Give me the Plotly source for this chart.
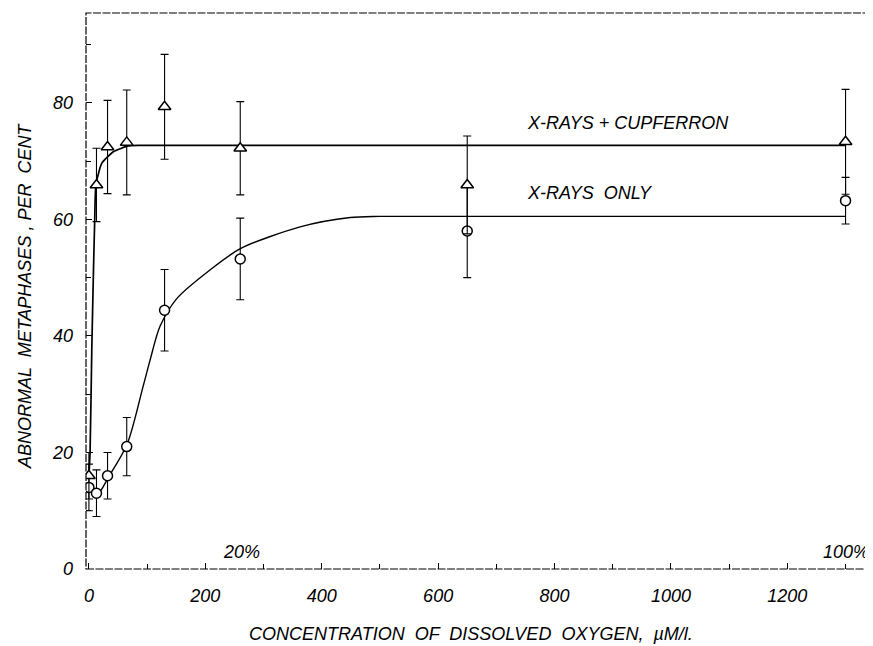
import plotly.graph_objects as go

# ---- data ----
conc = [0, 13, 32, 65, 130, 260, 650, 1300]

xray_only = [14, 13, 16, 21, 44.4, 53.2, 58, 63.2]
xray_only_err = [4, 4, 4, 5, 7, 7, 8, 4]

xray_cupf = [16, 65.9, 72.4, 73.2, 79.3, 72.2, 65.9, 73.3]
xray_cupf_err = [4, 6.3, 8, 9, 9, 8, 8.4, 9]

# fitted curves
fit_only_x = [0, 14, 35, 66, 93, 105, 122, 151, 208, 261, 363, 449, 500, 1300]
fit_only_y = [14, 12.8, 16, 21.5, 31.3, 35.8, 41.6, 46.4, 51.3, 55, 58.7, 60.3, 60.5, 60.5]

fit_cupf_x = [0, 2, 5, 8, 10, 12, 22, 42, 68, 88, 1300]
fit_cupf_y = [16, 20, 38, 52, 60, 65.9, 69.6, 71.6, 72.6, 72.7, 72.7]

x_ticks = [0, 200, 400, 600, 800, 1000, 1200]
y_ticks = [0, 20, 40, 60, 80]

FONT = "Liberation Sans"
TF = dict(family=FONT, size=18, color="black", style="italic")

fig = go.Figure()

fig.add_trace(go.Scatter(x=fit_only_x, y=fit_only_y, mode="lines",
                         line=dict(color="black", width=1.4, shape="spline", smoothing=0.8),
                         hoverinfo="skip", showlegend=False))
fig.add_trace(go.Scatter(x=fit_cupf_x, y=fit_cupf_y, mode="lines",
                         line=dict(color="black", width=1.7, shape="spline", smoothing=0.5),
                         hoverinfo="skip", showlegend=False))

fig.add_trace(go.Scatter(x=conc, y=xray_only, mode="markers",
                         marker=dict(symbol="circle", size=10, color="white",
                                     line=dict(color="black", width=1.5)),
                         error_y=dict(type="data", array=xray_only_err, color="black",
                                      thickness=1.1, width=4),
                         name="X-RAYS ONLY", showlegend=False))
fig.add_trace(go.Scatter(x=conc, y=xray_cupf, mode="markers",
                         marker=dict(symbol="triangle-up", size=11, color="white",
                                     line=dict(color="black", width=1.5)),
                         error_y=dict(type="data", array=xray_cupf_err, color="black",
                                      thickness=1.1, width=4),
                         name="X-RAYS + CUPFERRON", showlegend=False))

# frame (dashed look of the scan)
fig.add_shape(type="rect", xref="paper", yref="paper", x0=0, x1=1, y0=0, y1=1,
              line=dict(color="black", width=1.2, dash="8px,1.5px"))

# in-plot labels
fig.add_annotation(x=750, y=76.5, text="X-RAYS + CUPFERRON", showarrow=False,
                   xanchor="left", yanchor="middle", font=TF)
fig.add_annotation(x=750, y=64.5, text="X-RAYS  ONLY", showarrow=False,
                   xanchor="left", yanchor="middle", font=TF)
fig.add_annotation(x=263, y=2.9, text="20%", showarrow=False,
                   xanchor="center", yanchor="middle", font=TF)
fig.add_annotation(x=1301, y=2.9, text="100%", showarrow=False,
                   xanchor="center", yanchor="middle", font=TF)

# axis titles
fig.add_annotation(xref="paper", yref="paper", x=(471 - 86) / 784, y=-(634 - 569) / 556,
                   text="CONCENTRATION  OF  DISSOLVED  OXYGEN,  \u00b5M/l.", showarrow=False,
                   xanchor="center", yanchor="middle", font=TF)
fig.add_annotation(xref="paper", yref="paper", x=-(86 - 25) / 784, y=(569 - 296) / 556,
                   text="ABNORMAL  METAPHASES , PER  CENT", showarrow=False, textangle=-90,
                   xanchor="center", yanchor="middle", font=TF)

# page has an 8px body margin, so the figure is offset by 8px
fig.update_layout(
    width=865, height=638,
    margin=dict(l=78, r=3, t=5, b=77),
    paper_bgcolor="white", plot_bgcolor="white",
    showlegend=False,
    xaxis=dict(range=[-5, 1342], tickvals=x_ticks, ticktext=[str(v) for v in x_ticks],
               ticks="inside", ticklen=6, tickcolor="black", tickwidth=1,
               minor=dict(dtick=100, tick0=0, ticks="inside", ticklen=5, tickcolor="black"),
               showgrid=False, zeroline=False, showline=False,
               tickfont=dict(family=FONT, size=18, color="black", style="italic"),
               ticklabelstandoff=14),
    yaxis=dict(range=[0, 95.4], tickvals=y_ticks, ticktext=[str(v) for v in y_ticks],
               ticks="inside", ticklen=6, tickcolor="black", tickwidth=1,
               minor=dict(dtick=10, tick0=0, ticks="inside", ticklen=5, tickcolor="black"),
               showgrid=False, zeroline=False, showline=False,
               tickfont=dict(family=FONT, size=18, color="black", style="italic"),
               ticklabelstandoff=12),
)

fig.write_html("out.html")
